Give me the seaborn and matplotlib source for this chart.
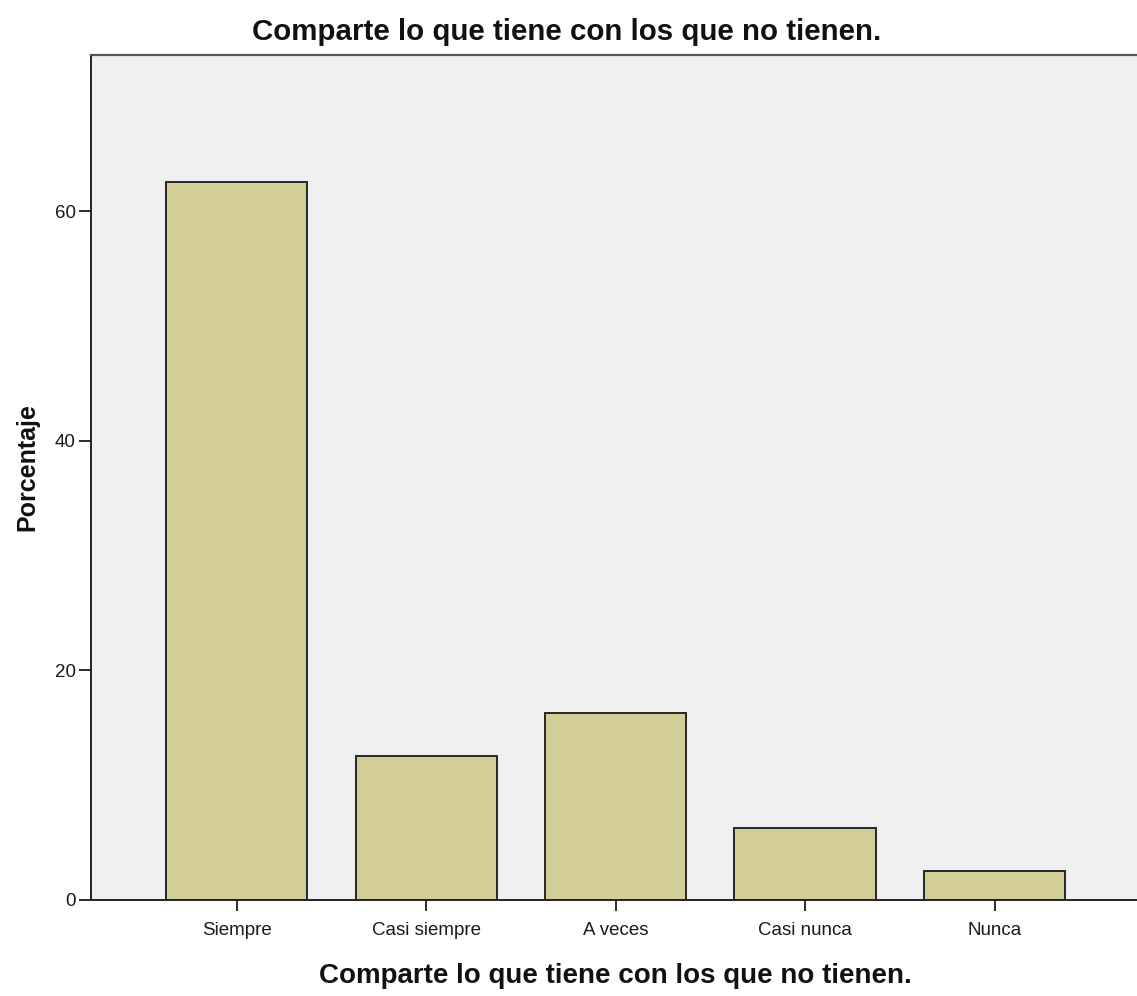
import matplotlib
matplotlib.use("Agg")
import matplotlib.pyplot as plt
import seaborn as sns
import pandas as pd

categories = ["Siempre", "Casi siempre", "A veces", "Casi nunca", "Nunca"]
percentages = [62.5, 12.5, 16.25, 6.25, 2.5]
yticks = [0, 20, 40, 60]
title = "Comparte lo que tiene con los que no tienen."
xlabel = "Comparte lo que tiene con los que no tienen."
ylabel = "Porcentaje"

sns.set_style("ticks")
plt.rcParams["font.family"] = ["Liberation Sans", "DejaVu Sans"]

df = pd.DataFrame({"cat": categories, "pct": percentages})

fig = plt.figure(figsize=(11.37, 9.96), dpi=100)
ax = fig.add_axes([0.080, 0.0964, 0.923, 0.8484])
ax.set_facecolor("#F0F0F0")

sns.barplot(data=df, x="cat", y="pct", order=categories, color="#D3CE97",
            saturation=1, width=0.745, edgecolor="#262626", linewidth=1.4, ax=ax)

ax.set_xlim(-0.769, 4.77)
ax.set_ylim(0, 73.6)
ax.set_yticks(yticks)
ax.set_yticklabels([str(v) for v in yticks])
ax.tick_params(axis="x", length=8, width=1.3, pad=8, labelsize=13.5, colors="#1a1a1a")
ax.tick_params(axis="y", length=9, width=1.3, pad=2, labelsize=13.5, colors="#1a1a1a")

for s in ["left", "bottom"]:
    ax.spines[s].set_color("#222222")
    ax.spines[s].set_linewidth(1.4)
ax.spines["top"].set_color("#555555")
ax.spines["top"].set_linewidth(1.6)
ax.spines["right"].set_visible(False)

ax.set_xlabel(xlabel, fontsize=20, fontweight="bold", color="#111111")
ax.xaxis.set_label_coords(0.5, -0.0746)
ax.set_ylabel(ylabel, fontsize=18, fontweight="bold", color="#111111")
ax.yaxis.set_label_coords(-0.0496, 0.512)
fig.text(0.4985, 0.968, title, ha="center", va="center", fontsize=21.25,
         fontweight="bold", color="#111111")

fig.savefig("out.png", dpi=100)
